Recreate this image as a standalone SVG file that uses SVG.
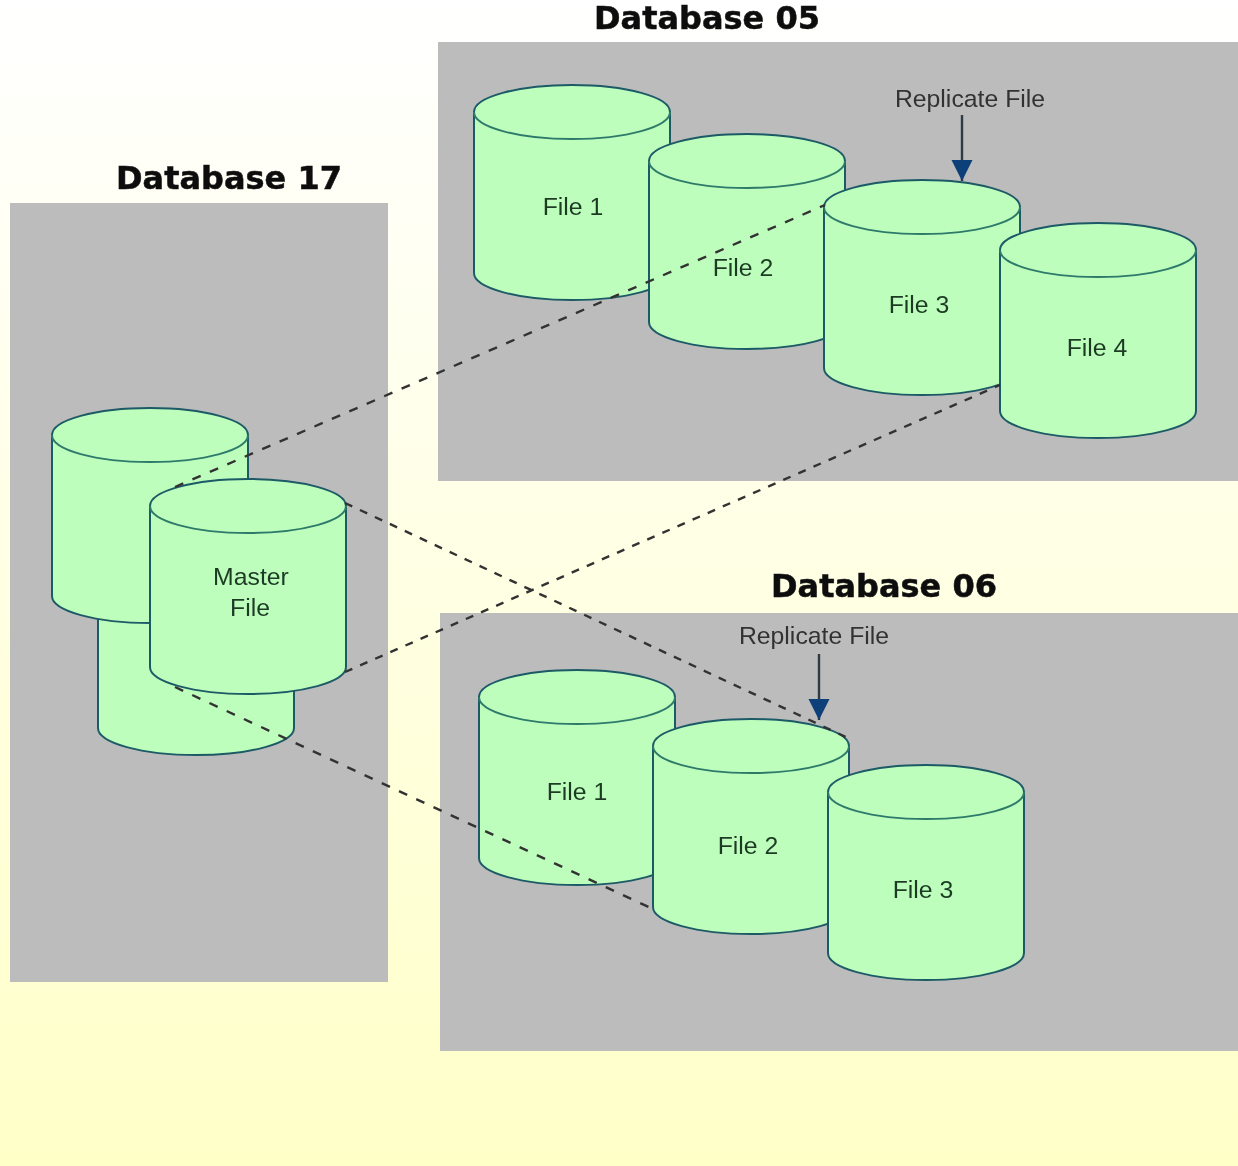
<svg xmlns="http://www.w3.org/2000/svg" width="1238" height="1166" viewBox="0 0 1238 1166">
<style>
.panel{fill:#bcbcbc}
.title{font-family:"DejaVu Sans",sans-serif;font-weight:700;font-size:32px;fill:#111;stroke:#111;stroke-width:0.5;text-anchor:middle}
.lab{font-family:"Liberation Sans",Arial,sans-serif;font-size:24.8px;fill:#1c3a24;text-anchor:middle}
.rep{font-family:"Liberation Sans",Arial,sans-serif;font-size:24.8px;fill:#333;text-anchor:middle}
.body{fill:#bdfebd;stroke:#1d5a66;stroke-width:2}
.rim{fill:none;stroke:#2f7a6a;stroke-width:2}
.dash{fill:none;stroke:#333;stroke-width:2.4;stroke-dasharray:8 8.5}
.dash.long{stroke-dasharray:9 10}
.ptr{fill:none;stroke:#2e3a44;stroke-width:2.4}
</style>
<defs>
<filter id="soft" x="0" y="0" width="100%" height="100%"><feGaussianBlur stdDeviation="0.5"/></filter>
<linearGradient id="bg" x1="0" y1="0" x2="0" y2="1">
<stop offset="0" stop-color="#ffffff"/>
<stop offset="0.45" stop-color="#ffffe6"/>
<stop offset="1" stop-color="#ffffc8"/>
</linearGradient>
<g id="cyl">
<path class="body" d="M0 27A98 27 0 0 1 196 27V188A98 27 0 0 1 0 188Z"/>
<path class="rim" d="M0 27A98 27 0 0 0 196 27"/>
</g>
<marker id="tip" markerUnits="userSpaceOnUse" markerWidth="22" markerHeight="22" refX="21" refY="10.5" orient="auto">
<path d="M0 0L21 10.5L0 21Z" fill="#0b3f78"/>
</marker>
</defs>
<g filter="url(#soft)">
<rect width="1238" height="1166" fill="url(#bg)"/>
<rect class="panel" x="10" y="203" width="378" height="779"/>
<rect class="panel" x="438" y="42" width="800" height="439"/>
<rect class="panel" x="440" y="613" width="798" height="438"/>
<text class="title" x="229" y="189">Database 17</text>
<text class="title" x="707" y="29">Database 05</text>
<text class="title" x="884" y="597">Database 06</text>

<g id="db17-lower"><use href="#cyl" x="98" y="540"/></g>
<g id="db17-upper"><use href="#cyl" x="52" y="408"/></g>
<g id="db17-master"><use href="#cyl" x="150" y="479"/><text class="lab" x="251" y="585">Master</text><text class="lab" x="250" y="616">File</text></g>

<g id="db05-file1"><use href="#cyl" x="474" y="85"/><text class="lab" x="573" y="215">File 1</text></g>
<g id="db05-file2"><use href="#cyl" x="649" y="134"/><text class="lab" x="743" y="276">File 2</text></g>
<g id="db05-file3"><use href="#cyl" x="824" y="180"/><text class="lab" x="919" y="313">File 3</text></g>
<g id="db05-file4"><use href="#cyl" x="1000" y="223"/><text class="lab" x="1097" y="356">File 4</text></g>

<g id="db06-file1"><use href="#cyl" x="479" y="670"/><text class="lab" x="577" y="800">File 1</text></g>
<g id="db06-file2"><use href="#cyl" x="653" y="719"/><text class="lab" x="748" y="854">File 2</text></g>
<g id="db06-file3"><use href="#cyl" x="828" y="765"/><text class="lab" x="923" y="898">File 3</text></g>

<g id="replicate-05"><text class="rep" x="970" y="107">Replicate File</text></g>
<g id="replicate-06"><text class="rep" x="814" y="644">Replicate File</text></g>

<g id="connectors">
<path class="dash long" d="M175 487L825 205"/>
<path class="dash" d="M345 672L1000 385"/>
<path class="dash" d="M345 503L848 738"/>
<path class="dash long" d="M175 687L655 910"/>
<path class="ptr" marker-end="url(#tip)" d="M962 115V181"/>
<path class="ptr" marker-end="url(#tip)" d="M819 654V720"/>
</g>
</g>
</svg>
